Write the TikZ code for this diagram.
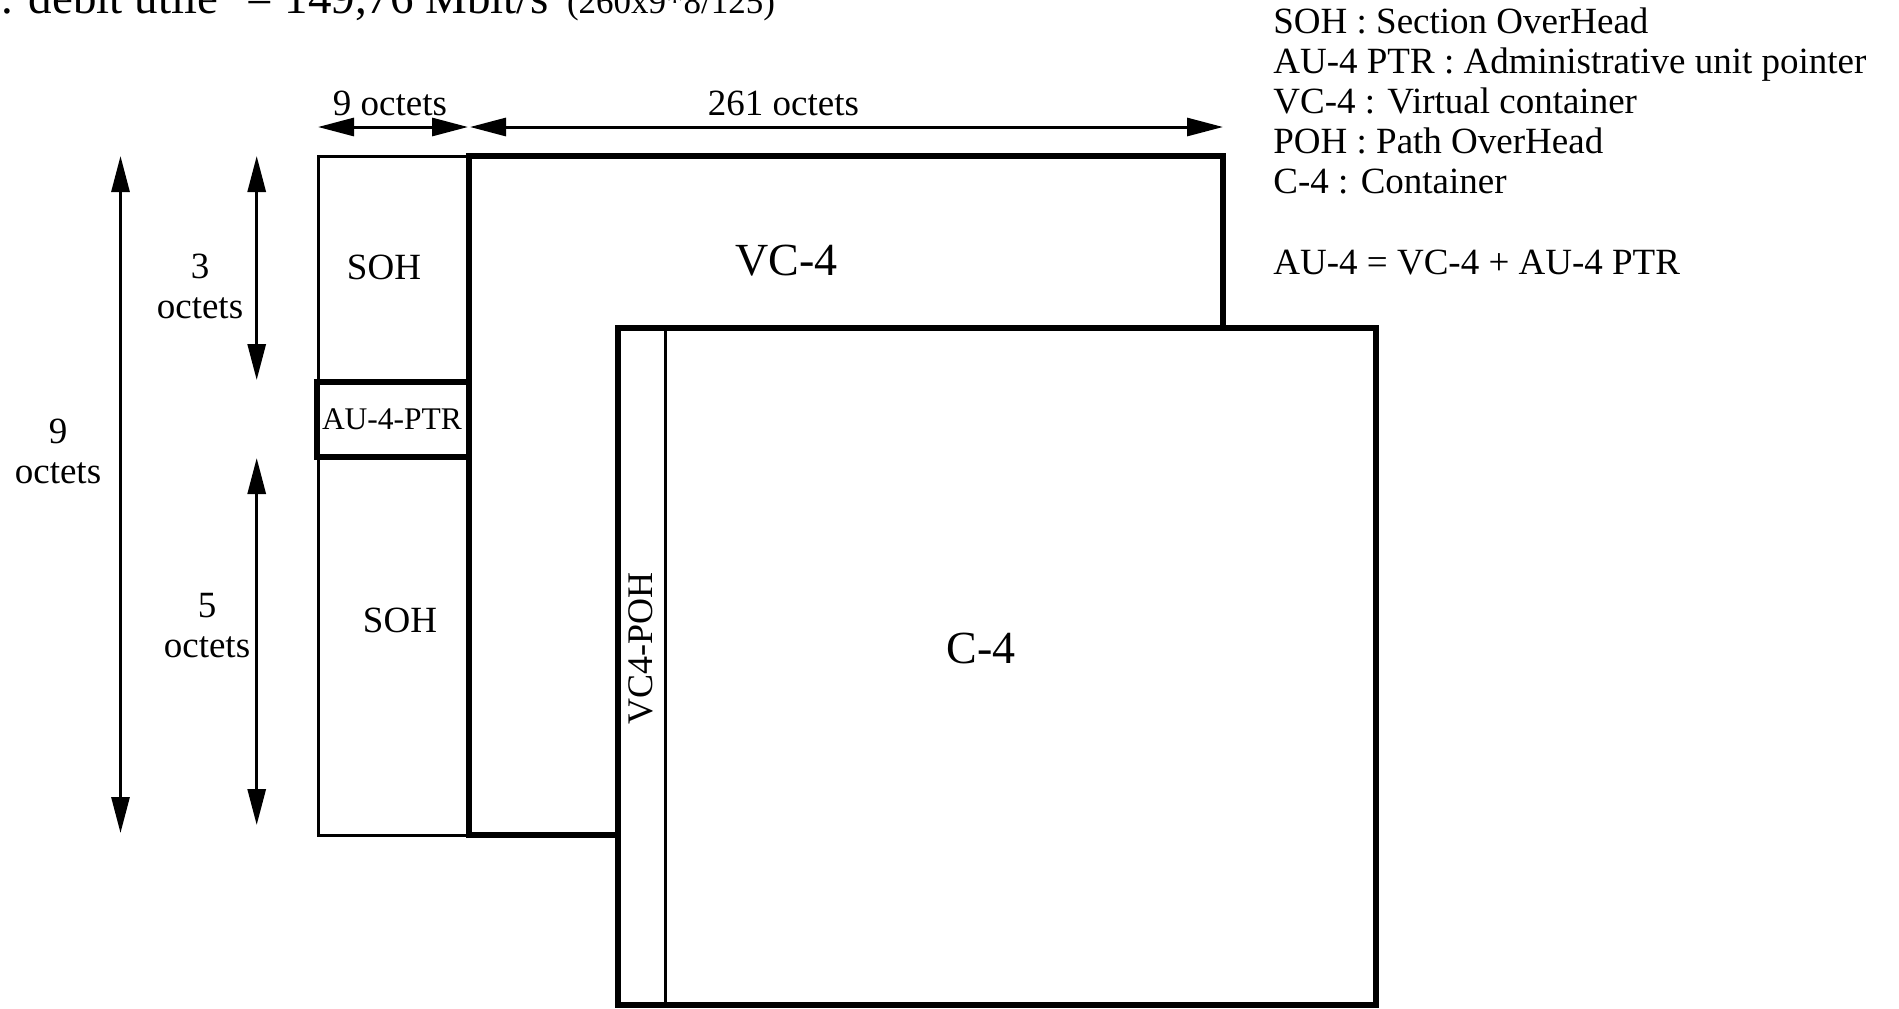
\documentclass[tikz,border=0pt]{standalone}
\usepackage{fontspec}
\setmainfont{Liberation Serif}
\usetikzlibrary{arrows.meta,positioning}

\begin{document}
\begin{tikzpicture}[x=0.5pt,y=-0.5pt,
  thinline/.style={line width=1.5pt},
  thickline/.style={line width=3pt},
  dim/.style={line width=1.5pt,{Triangle[length=18pt,width=9pt]}-{Triangle[length=18pt,width=9pt]}},
  lbl/.style={inner sep=0pt,font=\fontsize{18.5}{20}\selectfont},
  biglbl/.style={inner sep=0pt,font=\fontsize{23}{26}\selectfont}]
\useasboundingbox (0,0) rectangle (1899,1008);

% title, cut at the top
\node[anchor=base west,inner sep=0pt,font=\fontsize{23.5}{26}\selectfont] (title) at (1,13)
  {. debit utile\hspace{0.6em}= 149,76 Mbit/s\hspace{0.4em}{\fontsize{17.5}{20}\selectfont (260x9*8/125)}};

% frame
\draw[thinline] (468.75,156) -- (318,156) -- (318,835) -- (468.75,835);
\draw[thickline] (317,382) rectangle (468.75,457);
\draw[thickline] (468.75,156) rectangle (1223,835);
\filldraw[thickline,fill=white] (618,328) rectangle (1376,1005);
\draw[thinline] (665,328) -- (665,1005);

\node[lbl] (soh-top) at (384,267) {SOH};
\node[lbl] (soh-bot) at (400,620) {SOH};
\node[inner sep=0pt,font=\fontsize{15.75}{18}\selectfont] (ptr) at (392,419.5) {AU-4-PTR};
\node[biglbl,anchor=base] (vc4) at (786.5,275) {VC-4};
\node[biglbl,anchor=base] (c4) at (981,663) {C-4};
\node[inner sep=0pt,font=\fontsize{18}{20}\selectfont,rotate=90] (poh) at (641,648) {VC4-POH};

% widths
\coordinate (w9a) at (318,127);
\coordinate (w9b) at (468,127);
\coordinate (w261a) at (470,127);
\coordinate (w261b) at (1223,127);
\draw[dim] (w9a) -- (w9b);
\draw[dim] (w261a) -- (w261b);
\node[lbl,anchor=base] (w9-lbl) at (390,115) {9 octets};
\node[lbl,anchor=base] (w261-lbl) at (783.5,115) {261 octets};

% heights
\coordinate (h9a) at (120.5,156);
\coordinate (h9b) at (120.5,833);
\coordinate (h3a) at (256.7,156);
\coordinate (h3b) at (256.7,380);
\coordinate (h5a) at (256.7,458);
\coordinate (h5b) at (256.7,825);
\draw[dim] (h9a) -- (h9b);
\draw[dim] (h3a) -- (h3b);
\draw[dim] (h5a) -- (h5b);

\node[lbl,anchor=base] (h3-num) at (200,278) {3};
\node[lbl,anchor=base] (h3-oct) at ([yshift=-20pt]h3-num.base) {octets};
\node[lbl,anchor=base] (h5-num) at (207,617) {5};
\node[lbl,anchor=base] (h5-oct) at ([yshift=-20pt]h5-num.base) {octets};
\node[lbl,anchor=base] (h9-num) at (58,443) {9};
\node[lbl,anchor=base] (h9-oct) at ([yshift=-20pt]h9-num.base) {octets};

% legend
\foreach \txt [count=\i] in {SOH : Section OverHead,AU-4 PTR : Administrative unit pointer,VC-4 : Virtual container,POH : Path OverHead,C-4 : Container}
  \node[lbl,anchor=base west] (legend-\i) at (1273,{33+40*(\i-1)}) {\txt};
\node[lbl,anchor=base west] (legend-sum) at (1273,274) {AU-4 = VC-4 + AU-4 PTR};
\end{tikzpicture}
\end{document}
